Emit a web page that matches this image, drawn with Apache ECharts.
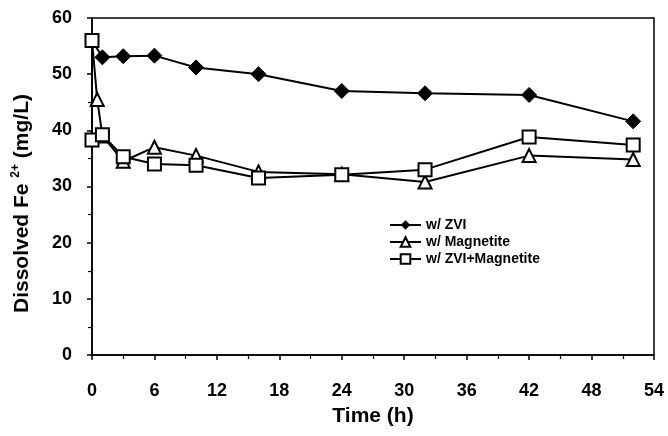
<!DOCTYPE html>
<html>
<head>
<meta charset="utf-8">
<script src="https://cdn.jsdelivr.net/npm/echarts@6/dist/echarts.min.js"></script>
<style>
  html, body { margin: 0; padding: 0; background: #fff; }
  #chart { width: 668px; height: 436px; }
</style>
</head>
<body>
<div id="chart"></div>
<script>
// values
var zviTime = [0, 1, 3, 6, 10, 16, 24, 32, 42, 52];
var zviFe = [56, 53, 53.2, 53.3, 51.2, 50, 47, 46.6, 46.3, 41.6];

var magTime = [0, 0.5, 1, 3, 6, 10, 16, 24, 32, 42, 52];
var magFe = [56, 45.5, 39, 34.5, 37, 35.5, 32.6, 32.2, 30.8, 35.5, 34.8];

var bothTime = [0, 0, 1, 3, 6, 10, 16, 24, 32, 42, 52];
var bothFe = [56, 38.3, 39.2, 35.3, 34, 33.8, 31.5, 32.1, 33, 38.8, 37.4];

var seriesNames = ["w/ ZVI", "w/ Magnetite", "w/ ZVI+Magnetite"];
var yTicks = [0, 10, 20, 30, 40, 50, 60];
var xTicks = [0, 6, 12, 18, 24, 30, 36, 42, 48, 54];

var font = "'Liberation Sans', Arial, sans-serif";

// the t=0 start point is shared, only the square marker is shown there
function pairs(t, v, hideFirst) {
  return t.map(function (x, i) {
    var item = { value: [x, v[i]] };
    if (hideFirst && i === 0) item.symbol = "none";
    return item;
  });
}

var myChart = echarts.init(document.getElementById("chart"));
myChart.setOption({
  animation: false,
  backgroundColor: "#fff",
  textStyle: { fontFamily: font },
  grid: {
    left: 92, right: 14, top: 18, bottom: 81,
    show: true, borderColor: "#000", borderWidth: 1.5
  },
  legend: {
    orient: "vertical",
    left: 384, top: 213,
    itemWidth: 31, itemHeight: 12, itemGap: 3,
    data: seriesNames,
    textStyle: { fontSize: 14, fontWeight: "bold", color: "#000", fontFamily: font }
  },
  xAxis: {
    type: "value",
    min: xTicks[0], max: xTicks[xTicks.length - 1], interval: 6,
    name: "Time (h)",
    nameLocation: "middle",
    nameGap: 51,
    nameTextStyle: { fontSize: 21, fontWeight: "bold", color: "#000", fontFamily: font },
    axisLine: { lineStyle: { color: "#000", width: 1.5 } },
    axisTick: { length: 5, lineStyle: { color: "#000", width: 1.5 } },
    minorTick: { show: true, splitNumber: 2, length: 4, lineStyle: { color: "#000", width: 1.2 } },
    axisLabel: { margin: 27, fontSize: 18, fontWeight: "bold", color: "#000", fontFamily: font },
    splitLine: { show: false }
  },
  yAxis: {
    type: "value",
    min: yTicks[0], max: yTicks[yTicks.length - 1], interval: 10,
    name: "Dissolved Fe {sup|2+} (mg/L)",
    nameLocation: "middle",
    nameGap: 58,
    nameTextStyle: {
      fontSize: 21, fontWeight: "bold", color: "#000", fontFamily: font,
      padding: [0, 34, 0, 0],
      rich: {
        sup: { fontSize: 12, fontWeight: "bold", color: "#000", fontFamily: font, padding: [0, 0, 12, 0] }
      }
    },
    axisLine: { show: true, lineStyle: { color: "#000", width: 1.5 } },
    axisTick: { show: true, length: 5, lineStyle: { color: "#000", width: 1.5 } },
    minorTick: { show: true, splitNumber: 2, length: 4, lineStyle: { color: "#000", width: 1.2 } },
    axisLabel: { margin: 20, fontSize: 18, fontWeight: "bold", color: "#000", fontFamily: font },
    splitLine: { show: false }
  },
  series: [
    {
      name: seriesNames[0],
      type: "line",
      data: pairs(zviTime, zviFe, true),
      symbol: "diamond",
      symbolSize: 15,
      lineStyle: { color: "#000", width: 2 },
      itemStyle: { color: "#000", borderColor: "#000" }
    },
    {
      name: seriesNames[1],
      type: "line",
      data: pairs(magTime, magFe, true),
      symbol: "triangle",
      symbolSize: 13,
      lineStyle: { color: "#000", width: 2 },
      itemStyle: { color: "#fff", borderColor: "#000", borderWidth: 2 }
    },
    {
      name: seriesNames[2],
      type: "line",
      data: pairs(bothTime, bothFe, false),
      symbol: "rect",
      symbolSize: 13,
      lineStyle: { color: "#000", width: 2 },
      itemStyle: { color: "#fff", borderColor: "#000", borderWidth: 2 }
    }
  ]
});
</script>
</body>
</html>
